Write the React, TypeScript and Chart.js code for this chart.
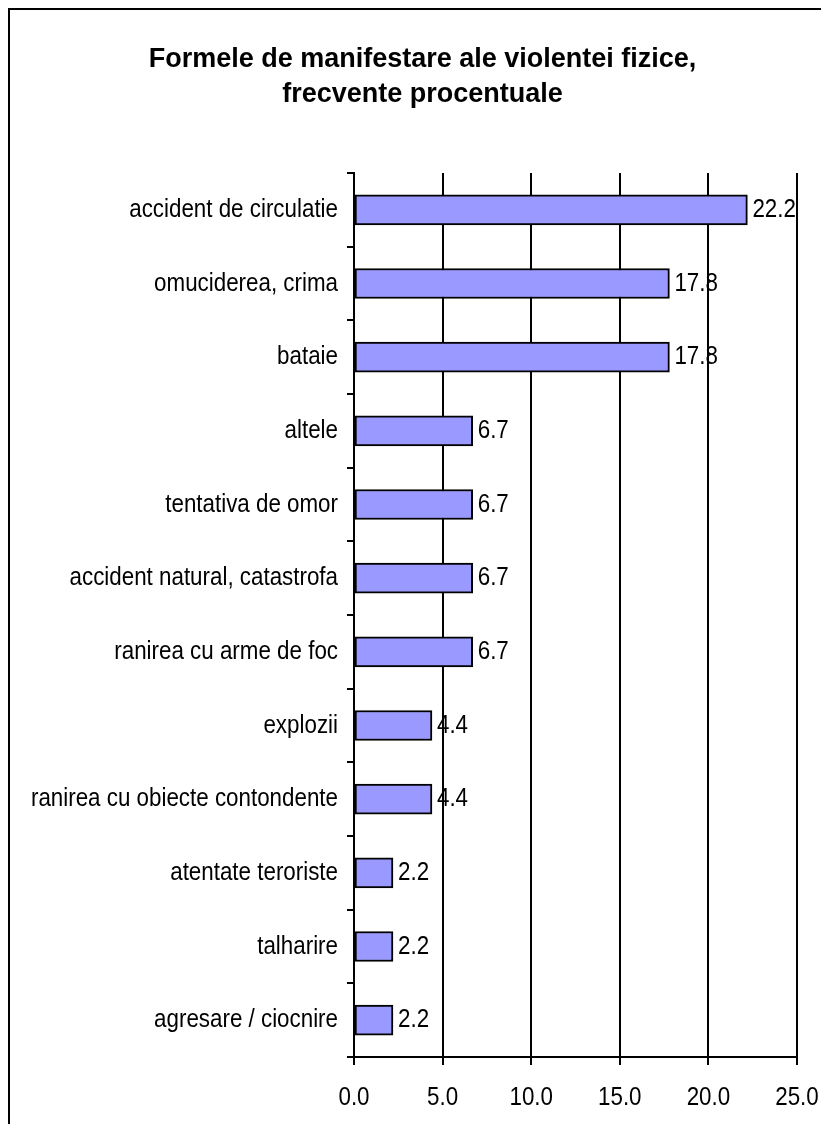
import React, { useEffect, useRef } from "react";
import { Chart, registerables } from "chart.js";

Chart.register(...registerables);

const titleLines = ["Formele de manifestare ale violentei fizice,", "frecvente procentuale"];

const categories = [
  "accident de circulatie",
  "omuciderea, crima",
  "bataie",
  "altele",
  "tentativa de omor",
  "accident natural, catastrofa",
  "ranirea cu arme de foc",
  "explozii",
  "ranirea cu obiecte contondente",
  "atentate teroriste",
  "talharire",
  "agresare / ciocnire",
];

const values = [22.2, 17.8, 17.8, 6.7, 6.7, 6.7, 6.7, 4.4, 4.4, 2.2, 2.2, 2.2];

const xTicks = [0, 5, 10, 15, 20, 25];

const FONT = "'Liberation Sans', Arial, sans-serif";
const LABEL_SIZE = 26; // narrow (condensed) label text
const NARROW_SCALE = 0.86;

// Condense the 26px label text horizontally (narrow Arial look)
const narrowText = {
  id: "narrowText",
  beforeDraw(chart: any) {
    const ctx = chart.ctx;
    if (ctx.__narrowPatched) return;
    const orig = ctx.fillText.bind(ctx);
    ctx.fillText = function (text: string, x: number, y: number, maxWidth?: number) {
      if (String(ctx.font).indexOf(LABEL_SIZE + "px") !== -1) {
        ctx.save();
        ctx.translate(x, y);
        ctx.scale(NARROW_SCALE, 1);
        if (maxWidth !== undefined) orig(text, 0, 0, maxWidth / NARROW_SCALE);
        else orig(text, 0, 0);
        ctx.restore();
      } else if (maxWidth !== undefined) {
        orig(text, x, y, maxWidth);
      } else {
        orig(text, x, y);
      }
    };
    ctx.__narrowPatched = true;
  },
};

const valueLabels = {
  id: "valueLabels",
  afterDatasetsDraw(chart: any) {
    const ctx = chart.ctx;
    const meta = chart.getDatasetMeta(0);
    ctx.save();
    ctx.font = `${LABEL_SIZE}px ${FONT}`;
    ctx.fillStyle = "#000";
    ctx.textBaseline = "middle";
    ctx.textAlign = "left";
    meta.data.forEach((bar: any, i: number) => {
      ctx.fillText(values[i].toFixed(1), bar.x + 5, bar.y);
    });
    ctx.restore();
  },
};

export default function App() {
  const canvasRef = useRef<HTMLCanvasElement | null>(null);

  useEffect(() => {
    if (!canvasRef.current) return;
    const chart = new Chart(canvasRef.current, {
      type: "bar",
      data: {
        labels: categories,
        datasets: [
          {
            data: values,
            backgroundColor: "#9999FF",
            borderColor: "#000000",
            borderWidth: 2,
            borderSkipped: false,
            barThickness: 30,
          },
        ],
      },
      options: {
        indexAxis: "y",
        animation: false,
        responsive: true,
        maintainAspectRatio: false,
        layout: { padding: { top: 0, right: 0, bottom: 0, left: 6 } },
        plugins: {
          legend: { display: false },
          tooltip: { enabled: false },
          title: {
            display: true,
            text: titleLines,
            color: "#000",
            font: { family: FONT, size: 27, weight: "bold", lineHeight: 35 / 27 },
            padding: { top: 32, bottom: 61 },
          },
        },
        scales: {
          x: {
            min: 0,
            max: 25,
            afterBuildTicks: (scale: any) => {
              scale.ticks = xTicks.map((v) => ({ value: v }));
            },
            afterFit: (scale: any) => {
              scale.height = 67;
              scale.paddingLeft = 0;
              scale.paddingRight = 0;
            },
            grid: {
              color: "#000",
              lineWidth: 2,
              tickLength: 8,
              drawTicks: true,
            },
            border: { display: true, color: "#000", width: 2 },
            ticks: {
              color: "#000",
              font: { family: FONT, size: LABEL_SIZE },
              padding: 17,
              maxRotation: 0,
              callback: (v: any) => Number(v).toFixed(1),
            },
          },
          y: {
            afterFit: (scale: any) => {
              scale.width = 338;
            },
            grid: {
              offset: true,
              drawOnChartArea: false,
              drawTicks: true,
              tickLength: 7,
              color: "#000",
              lineWidth: 2,
            },
            border: { display: true, color: "#000", width: 2 },
            ticks: {
              color: "#000",
              font: { family: FONT, size: LABEL_SIZE },
              padding: 9,
              autoSkip: false,
            },
          },
          yRight: {
            type: "category",
            labels: categories,
            position: "right",
            display: true,
            grid: { display: false },
            border: { display: false },
            ticks: { display: false },
            afterFit: (scale: any) => {
              scale.width = 32;
            },
          },
        },
      },
      plugins: [narrowText, valueLabels],
    });
    return () => chart.destroy();
  }, []);

  return (
    <div
      style={{
        width: 821,
        height: 1116,
        boxSizing: "border-box",
        borderLeft: "2px solid #000",
        borderTop: "2px solid #000",
        overflow: "hidden",
        background: "#fff",
      }}
    >
      <div style={{ position: "relative", width: 819, height: 1114 }}>
        <canvas ref={canvasRef} />
      </div>
    </div>
  );
}
